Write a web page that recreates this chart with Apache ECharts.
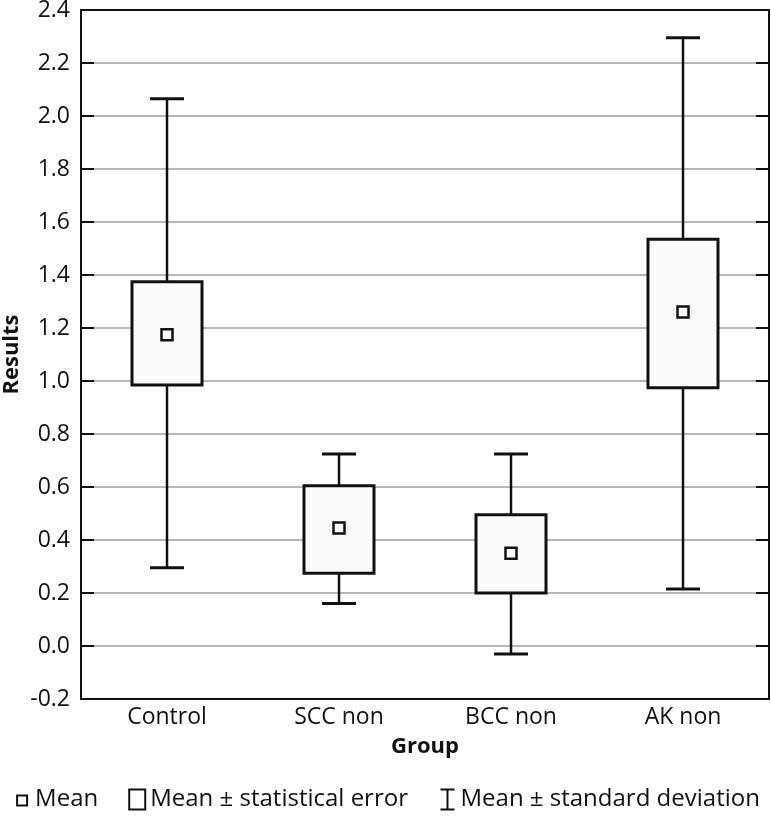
<!DOCTYPE html>
<html>
<head>
<meta charset="utf-8">
<script src="https://cdn.jsdelivr.net/npm/echarts@6/dist/echarts.min.js"></script>
<style>html,body{margin:0;padding:0;background:#fff}#c{width:771px;height:817px}</style>
</head>
<body>
<div id="c"></div>
<script>
var categories = ['Control', 'SCC non', 'BCC non', 'AK non'];
var meanVals = [1.175, 0.445, 0.35, 1.26];
var seLow = [0.985, 0.275, 0.20, 0.975];
var seHigh = [1.375, 0.605, 0.495, 1.535];
var sdLow = [0.295, 0.16, -0.03, 0.215];
var sdHigh = [2.065, 0.725, 0.725, 2.295];
var yTicks = { min: -0.2, max: 2.4, step: 0.2 };

var FONT = 'Open Sans';
var chart = echarts.init(document.getElementById('c'), null, { renderer: 'canvas' });

var boxData = categories.map(function (c, i) { return [i, seLow[i], seHigh[i]]; });
var sdData = categories.map(function (c, i) { return [i, sdLow[i], sdHigh[i], seLow[i], seHigh[i]]; });
var meanData = categories.map(function (c, i) { return [i, meanVals[i]]; });

var option = {
  animation: false,
  backgroundColor: '#fff',
  grid: { left: 81, right: 2, top: 10, bottom: 118, containLabel: false, outerBoundsMode: 'none' },
  legend: {
    bottom: 0,
    left: 'center',
    itemWidth: 20,
    itemHeight: 20,
    itemGap: 30,
    textStyle: { fontFamily: FONT, fontSize: 24, color: '#111', padding: [0, 0, 0, -2] },
    data: [
      { name: 'Mean', icon: 'path://M0,0M20,20M5,6L15,6L15,16L5,16Z',
        itemStyle: { color: '#fff', borderColor: '#111', borderWidth: 2 } },
      { name: 'Mean ± statistical error', icon: 'path://M0,0L16,0L16,20L0,20Z',
        itemStyle: { color: '#fff', borderColor: '#111', borderWidth: 2 } },
      { name: 'Mean ± standard deviation', icon: 'path://M0,0L14,0M7,0L7,20M0,20L14,20',
        itemStyle: { color: 'none', borderColor: '#111', borderWidth: 2 } }
    ]
  },
  xAxis: [{
    type: 'category',
    data: categories,
    position: 'bottom',
    name: 'Group',
    nameLocation: 'middle',
    nameGap: 37,
    nameTextStyle: { fontFamily: FONT, fontSize: 22, fontWeight: 'bold', color: '#111' },
    axisLine: { onZero: false, lineStyle: { color: '#111', width: 2 } },
    axisTick: { alignWithLabel: true, inside: true, length: 12, lineStyle: { color: '#111', width: 1.5 } },
    axisLabel: { fontFamily: FONT, fontSize: 23, color: '#111', margin: 7 },
    splitLine: { show: false }
  }, {
    type: 'category',
    data: categories,
    position: 'top',
    axisLine: { onZero: false, lineStyle: { color: '#111', width: 2 } },
    axisTick: { alignWithLabel: true, inside: true, length: 12, lineStyle: { color: '#111', width: 1.5 } },
    axisLabel: { show: false },
    splitLine: { show: false }
  }],
  yAxis: [{
    type: 'value',
    min: yTicks.min, max: yTicks.max, interval: yTicks.step,
    position: 'left',
    name: 'Results',
    nameLocation: 'middle',
    nameGap: 58,
    nameMoveOverlap: false,
    nameTextStyle: { fontFamily: FONT, fontSize: 22, fontWeight: 'bold', color: '#111' },
    axisLine: { show: true, onZero: false, lineStyle: { color: '#111', width: 2 } },
    axisTick: { show: true, inside: true, length: 13, lineStyle: { color: '#111', width: 2 } },
    axisLabel: { fontFamily: FONT, fontSize: 23, color: '#111', margin: 11,
      formatter: function (v) { return (Math.round(v * 10) / 10).toFixed(1); } },
    splitLine: { show: true, lineStyle: { color: '#b8b8b8', width: 2 } }
  }, {
    type: 'value',
    min: yTicks.min, max: yTicks.max, interval: yTicks.step,
    position: 'right',
    axisLine: { show: true, onZero: false, lineStyle: { color: '#111', width: 2 } },
    axisTick: { show: true, inside: true, length: 13, lineStyle: { color: '#111', width: 2 } },
    axisLabel: { show: false },
    splitLine: { show: false }
  }],
  series: [{
    name: 'Mean ± standard deviation',
    type: 'custom',
    z: 2,
    encode: { x: 0, y: [1, 2] },
    data: sdData,
    renderItem: function (params, api) {
      var x = api.coord([api.value(0), 0])[0];
      var lo = api.coord([0, api.value(1)])[1];
      var hi = api.coord([0, api.value(2)])[1];
      var bl = api.coord([0, api.value(3)])[1];
      var bh = api.coord([0, api.value(4)])[1];
      var cap = 17;
      var st = { stroke: '#111', lineWidth: 2.5 };
      return { type: 'group', children: [
        { type: 'line', shape: { x1: x, y1: hi, x2: x, y2: bh }, style: st },
        { type: 'line', shape: { x1: x, y1: bl, x2: x, y2: lo }, style: st },
        { type: 'line', shape: { x1: x - cap, y1: hi, x2: x + cap, y2: hi }, style: { stroke: '#111', lineWidth: 3 } },
        { type: 'line', shape: { x1: x - cap, y1: lo, x2: x + cap, y2: lo }, style: { stroke: '#111', lineWidth: 3 } }
      ] };
    }
  }, {
    name: 'Mean ± statistical error',
    type: 'custom',
    z: 3,
    encode: { x: 0, y: [1, 2] },
    data: boxData,
    renderItem: function (params, api) {
      var x = api.coord([api.value(0), 0])[0];
      var lo = api.coord([0, api.value(1)])[1];
      var hi = api.coord([0, api.value(2)])[1];
      var w = 70;
      return { type: 'rect', shape: { x: x - w / 2, y: hi, width: w, height: lo - hi },
        style: { fill: '#fafafa', stroke: '#111', lineWidth: 3 } };
    }
  }, {
    name: 'Mean',
    type: 'scatter',
    z: 4,
    symbol: 'rect',
    symbolSize: 11,
    data: meanData,
    itemStyle: { color: '#fff', borderColor: '#111', borderWidth: 2.5, opacity: 1 }
  }]
};
chart.setOption(option);
</script>
</body>
</html>
